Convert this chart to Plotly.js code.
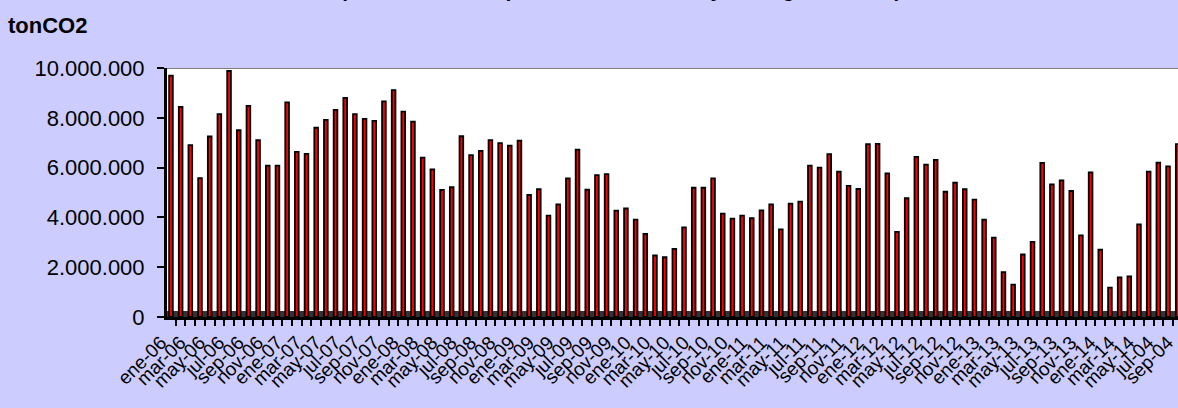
<!DOCTYPE html>
<html>
<head>
<meta charset="utf-8">
<script src="https://cdn.plot.ly/plotly-3.0.1.min.js"></script>
<style>html,body{margin:0;padding:0;background:#CCCCFF;}#chart{width:1178px;height:408px;}</style>
</head>
<body>
<div id="chart"></div>
<script>
const categories = [
  "ene-06","feb-06","mar-06","abr-06","may-06","jun-06","jul-06","ago-06","sep-06","oct-06","nov-06","dic-06",
  "ene-07","feb-07","mar-07","abr-07","may-07","jun-07","jul-07","ago-07","sep-07","oct-07","nov-07","dic-07",
  "ene-08","feb-08","mar-08","abr-08","may-08","jun-08","jul-08","ago-08","sep-08","oct-08","nov-08","dic-08",
  "ene-09","feb-09","mar-09","abr-09","may-09","jun-09","jul-09","ago-09","sep-09","oct-09","nov-09","dic-09",
  "ene-10","feb-10","mar-10","abr-10","may-10","jun-10","jul-10","ago-10","sep-10","oct-10","nov-10","dic-10",
  "ene-11","feb-11","mar-11","abr-11","may-11","jun-11","jul-11","ago-11","sep-11","oct-11","nov-11","dic-11",
  "ene-12","feb-12","mar-12","abr-12","may-12","jun-12","jul-12","ago-12","sep-12","oct-12","nov-12","dic-12",
  "ene-13","feb-13","mar-13","abr-13","may-13","jun-13","jul-13","ago-13","sep-13","oct-13","nov-13","dic-13",
  "ene-14","feb-14","mar-14","abr-14","may-14","jun-14","jul-04","ago-14","sep-04"
];
const emisiones = [
  9690000,8440000,6900000,5580000,7250000,8150000,9880000,7500000,8480000,7100000,6080000,6080000,
  8620000,6630000,6550000,7600000,7920000,8320000,8800000,8150000,7960000,7880000,8660000,9110000,
  8250000,7850000,6400000,5930000,5100000,5210000,7260000,6500000,6670000,7100000,6980000,6880000,
  7080000,4900000,5130000,4070000,4520000,5570000,6720000,5110000,5700000,5740000,4270000,4360000,
  3910000,3340000,2470000,2400000,2730000,3600000,5190000,5190000,5570000,4150000,3950000,4070000,
  3970000,4280000,4520000,3520000,4550000,4630000,6080000,6000000,6540000,5840000,5270000,5140000,
  6940000,6950000,5770000,3420000,4770000,6430000,6120000,6310000,5030000,5400000,5130000,4710000,
  3910000,3190000,1800000,1300000,2510000,3020000,6190000,5330000,5490000,5060000,3280000,5810000,
  2700000,1180000,1590000,1630000,3720000,5840000,6200000,6050000,6940000
];
const yTickVals = [0, 2000000, 4000000, 6000000, 8000000, 10000000];
const yTickText = ["0", "2.000.000", "4.000.000", "6.000.000", "8.000.000", "10.000.000"];
const xTickText = categories.map((c, i) => (i % 2 === 0 ? c : ""));
const chartTitle = "Emisiones de CO2 por Generación (SIC+SING, Mensual y Total generación)";
const yUnit = "tonCO2";

const FONT = "Liberation Sans, Arial, sans-serif";

const trace = {
  type: "bar",
  x: categories,
  y: emisiones,
  width: 0.38,
  marker: { color: "#FF0000", line: { color: "#000000", width: 1.8 } },
  hoverinfo: "x+y"
};

const layout = {
  width: 1178,
  height: 408,
  paper_bgcolor: "#CCCCFF",
  plot_bgcolor: "#FFFFFF",
  margin: { l: 167, r: 0, t: 68, b: 91 },
  showlegend: false,
  font: { family: FONT, size: 20, color: "#000000" },
  xaxis: {
    type: "category",
    range: [-0.41, 104.03],
    tickmode: "array",
    tickvals: categories,
    ticktext: xTickText,
    tickangle: -45,
    tickson: "boundaries",
    ticks: "outside",
    ticklen: 6,
    tickwidth: 2,
    tickcolor: "#000000",
    showline: true,
    linecolor: "#000000",
    linewidth: 3,
    showgrid: false,
    zeroline: false,
    ticklabelstandoff: 4,
    ticklabelshift: -10,
    tickfont: { family: FONT, size: 19, color: "#000000" }
  },
  yaxis: {
    range: [0, 10000000],
    tickmode: "array",
    tickvals: yTickVals,
    ticktext: yTickText,
    ticks: "outside",
    ticklen: 7,
    tickwidth: 2,
    tickcolor: "#000000",
    showline: true,
    linecolor: "#000000",
    linewidth: 3,
    showgrid: false,
    zeroline: false,
    ticklabelstandoff: 8,
    tickfont: { family: FONT, size: 22, color: "#000000" }
  },
  shapes: [
    { type: "rect", layer: "below", xref: "paper", x0: 0, x1: 1, yref: "y", y0: 0, y1: 240000,
      fillcolor: "#333333", line: { width: 0 } },
    { type: "line", layer: "above", xref: "paper", x0: 0, x1: 1, yref: "y", y0: 10000000, y1: 10000000,
      line: { color: "#808080", width: 2 } }
  ],
  annotations: [
    { text: "<b>" + chartTitle + "</b>", xref: "paper", yref: "paper", x: -0.0168, y: 1,
      xanchor: "left", yanchor: "bottom", yshift: 65, showarrow: false,
      font: { family: FONT, size: 21, color: "#000000" } },
    { text: "<b>" + yUnit + "</b>", xref: "paper", yref: "paper", x: -0.159, y: 1,
      xanchor: "left", yanchor: "bottom", yshift: 28, showarrow: false,
      font: { family: FONT, size: 22, color: "#000000" } }
  ]
};

Plotly.newPlot("chart", [trace], layout, { displayModeBar: false, staticPlot: true });
</script>
</body>
</html>
